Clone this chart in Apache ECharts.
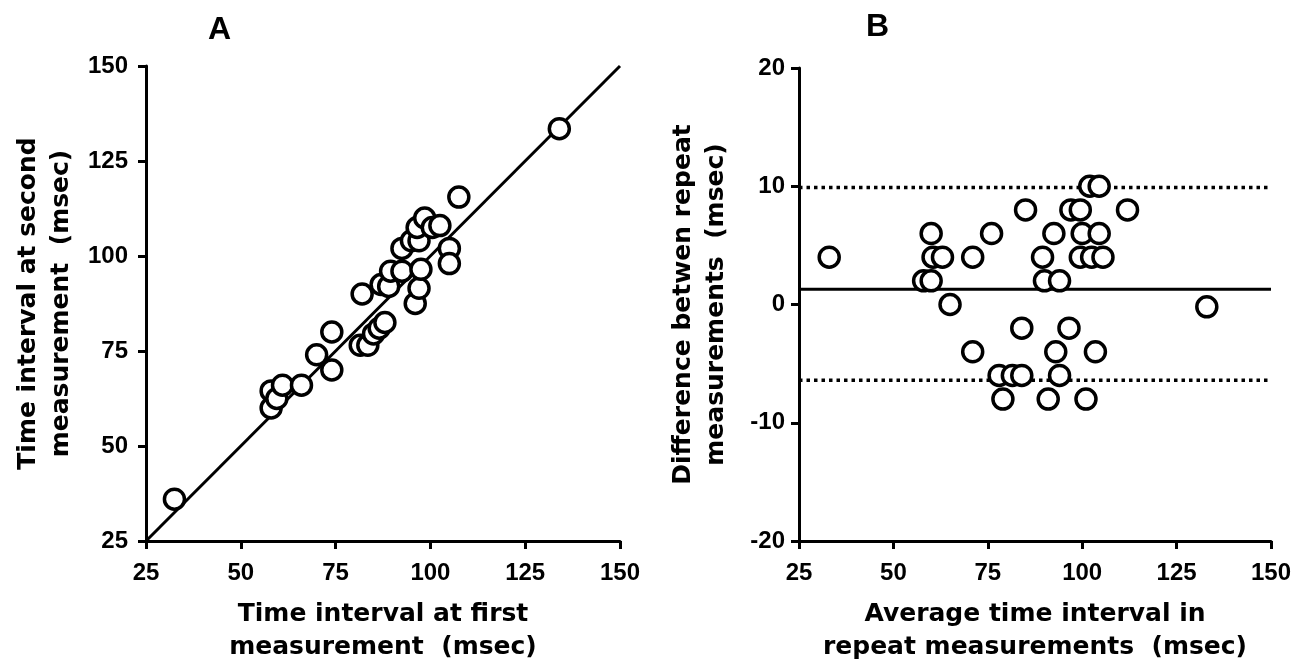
<!DOCTYPE html>
<html>
<head>
<meta charset="utf-8">
<script src="https://cdn.jsdelivr.net/npm/echarts@6/dist/echarts.min.js"></script>
<style>
html,body{margin:0;padding:0;background:#fff;}
#chart{width:1310px;height:663px;}
</style>
</head>
<body>
<div id="chart"></div>
<script>
// Panel A: [first measurement, second measurement] (msec)
var firstVsSecond = [
  [32.5,36],[58,64.5],[58,60],[59.5,62.5],[61,66],[66,66],[70,74],[74,80],[74,70],
  [81.5,76.5],[83.5,76.5],[85,79.5],[86.5,81],[88,82.5],[82,90],[87,92.5],[89,92],
  [89.5,96],[92.5,96],[92.5,102],[95,104],[97,104],[96,87.5],[97,91.5],[97.5,96.5],
  [96.5,107.5],[98.5,110],[100.5,107.5],[102.5,108],[105,102],[105,98],[107.5,115.5],
  [134,133.5]
];
var identityLine = [[25,25],[150,150]];

// Panel B: [average, difference] (msec)
var avgVsDiff = [
  [33,4],[60,6],[60.5,4],[63,4],[58,2],[60,2],[65,0],[71,4],[76,6],[85,8],
  [71,-4],[84,-2],[78,-6],[81.5,-6],[84,-6],[79,-8],[89.5,4],[90,2],[94,2],[92.5,6],
  [97,8],[99.5,8],[102,10],[104.5,10],[112,8],[100,6],[104.5,6],[99.5,4],[102.5,4],
  [105.5,4],[96.5,-2],[93,-4],[103.5,-4],[94,-6],[91,-8],[101,-8],[133,-0.2]
];
var meanDiff = 1.3;
var upperLimit = 9.9;
var lowerLimit = -6.4;

var FONT = '"Liberation Sans", Arial, Helvetica, sans-serif';
var TFONT = '"DejaVu Sans", "Liberation Sans", Arial, sans-serif';
var axisLineStyle = {show:true, onZero:false, lineStyle:{color:'#000', width:3}};
var axisTickStyle = {show:true, length:8, lineStyle:{color:'#000', width:3}};
function lbl(margin){ return {color:'#000', fontSize:24, fontWeight:'bold', fontFamily:FONT, margin:margin}; }
function nameStyle(){ return {color:'#000', fontSize:25, fontWeight:'bold', fontFamily:TFONT, lineHeight:33}; }

var chart = echarts.init(document.getElementById('chart'), null, {renderer:'canvas'});
chart.setOption({
  backgroundColor:'#fff',
  animation:false,
  title:[
    {text:'A', left:203, top:9, textStyle:{fontSize:32, fontWeight:'bold', fontFamily:FONT, color:'#000'}},
    {text:'B', left:861, top:6, textStyle:{fontSize:32, fontWeight:'bold', fontFamily:FONT, color:'#000'}}
  ],
  grid:[
    {left:146, top:66, width:474, height:475, containLabel:false, outerBoundsMode:'none'},
    {left:799, top:68, width:472, height:473, containLabel:false, outerBoundsMode:'none'}
  ],
  xAxis:[
    {gridIndex:0, type:'value', min:25, max:150, interval:25,
     name:'Time interval at first\nmeasurement  (msec)', nameLocation:'middle', nameGap:57,
     nameTextStyle:nameStyle(),
     axisLine:axisLineStyle, axisTick:axisTickStyle, axisLabel:lbl(20), splitLine:{show:false}},
    {gridIndex:1, type:'value', min:25, max:150, interval:25,
     name:'Average time interval in\nrepeat measurements  (msec)', nameLocation:'middle', nameGap:57,
     nameTextStyle:nameStyle(),
     axisLine:axisLineStyle, axisTick:axisTickStyle, axisLabel:lbl(20), splitLine:{show:false}}
  ],
  yAxis:[
    {gridIndex:0, type:'value', min:25, max:150, interval:25,
     name:'Time interval at second\nmeasurement  (msec)', nameLocation:'middle', nameGap:68,
     nameTextStyle:nameStyle(),
     axisLine:axisLineStyle, axisTick:axisTickStyle, axisLabel:lbl(18), splitLine:{show:false}},
    {gridIndex:1, type:'value', min:-20, max:20, interval:10,
     name:'Difference betwen repeat\nmeasurements  (msec)', nameLocation:'middle', nameGap:66,
     nameTextStyle:nameStyle(),
     axisLine:axisLineStyle, axisTick:axisTickStyle, axisLabel:lbl(14), splitLine:{show:false}}
  ],
  series:[
    {type:'line', xAxisIndex:0, yAxisIndex:0, data:identityLine, symbol:'none',
     lineStyle:{color:'#000', width:3}, z:1, silent:true},
    {type:'scatter', xAxisIndex:0, yAxisIndex:0, data:firstVsSecond, symbol:'circle', symbolSize:20,
     itemStyle:{color:'#fff', borderColor:'#000', borderWidth:3.5, opacity:1}, z:3},
    {type:'line', xAxisIndex:1, yAxisIndex:1, data:[[25,meanDiff],[150,meanDiff]], symbol:'none',
     lineStyle:{color:'#000', width:3}, z:1, silent:true},
    {type:'line', xAxisIndex:1, yAxisIndex:1, data:[[25,upperLimit],[150,upperLimit]], symbol:'none',
     lineStyle:{color:'#000', width:3.5, type:[3.5,4]}, z:1, silent:true},
    {type:'line', xAxisIndex:1, yAxisIndex:1, data:[[25,lowerLimit],[150,lowerLimit]], symbol:'none',
     lineStyle:{color:'#000', width:3.5, type:[3.5,4]}, z:1, silent:true},
    {type:'scatter', xAxisIndex:1, yAxisIndex:1, data:avgVsDiff, symbol:'circle', symbolSize:20,
     itemStyle:{color:'#fff', borderColor:'#000', borderWidth:3.5, opacity:1}, z:3}
  ]
});
</script>
</body>
</html>
